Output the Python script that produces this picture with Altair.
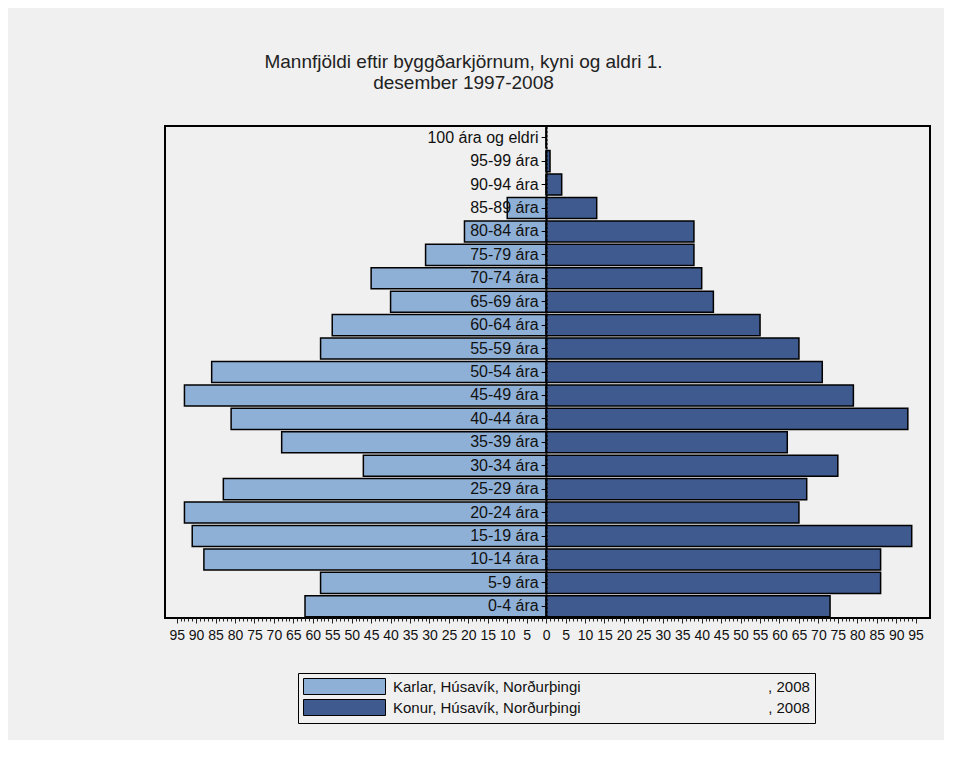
import altair as alt
import pandas as pd

ages = ["100 ára og eldri", "95-99 ára", "90-94 ára", "85-89 ára", "80-84 ára",
        "75-79 ára", "70-74 ára", "65-69 ára", "60-64 ára", "55-59 ára",
        "50-54 ára", "45-49 ára", "40-44 ára", "35-39 ára", "30-34 ára",
        "25-29 ára", "20-24 ára", "15-19 ára", "10-14 ára", "5-9 ára", "0-4 ára"]
karlar = [0, 0, 0, 10, 21, 31, 45, 40, 55, 58, 86, 93, 81, 68, 47, 83, 93, 91, 88, 58, 62]
konur = [0, 1, 4, 13, 38, 38, 40, 43, 55, 65, 71, 79, 93, 62, 75, 67, 65, 94, 86, 86, 73]

series = ["Karlar, Húsavík, Norðurþingi", "Konur, Húsavík, Norðurþingi"]
year = "2008"
colors = ["#8fb0d6", "#3e5a8e"]
title_lines = ["Mannfjöldi eftir byggðarkjörnum, kyni og aldri 1.", "desember 1997-2008"]

rows = []
for a, m, f in zip(ages, karlar, konur):
    rows.append({"age": a, "sex": series[0], "value": -m})
    rows.append({"age": a, "sex": series[1], "value": f})
df = pd.DataFrame(rows)

FONT = "Liberation Sans"
W, H = 765, 492
XMIN, XMAX = -98.0, 98.7
zero_px = W * (-XMIN) / (XMAX - XMIN)

nb = "\u00a0" * 45
lbl0 = series[0] + nb + ", " + year
lbl1 = series[1] + nb + ", " + year
label_expr = f"datum.label == '{series[0]}' ? '{lbl0}' : '{lbl1}'"

bars = alt.Chart(df).mark_bar(stroke="black", strokeWidth=1.5).encode(
    x=alt.X("value:Q",
            scale=alt.Scale(domain=[XMIN, XMAX], nice=False, zero=False),
            axis=alt.Axis(
                values=list(range(-95, 96)),
                labelExpr="datum.value % 5 === 0 ? '' + abs(datum.value) : ''",
                tickSize={"condition": {"test": "datum.value % 5 === 0", "value": 5}, "value": 3},
                tickColor="#222", tickWidth=1,
                labelOverlap=False, labelFontSize=14, labelFont=FONT,
                labelColor="#111", labelPadding=5, domain=False, grid=False, title=None)),
    y=alt.Y("age:N", sort=ages,
            scale=alt.Scale(paddingInner=0.1, paddingOuter=0.05),
            axis=alt.Axis(offset=-zero_px, title=None, domain=True, domainColor="black",
                          domainWidth=2, domainDash=[3, 1], tickSize=5, tickColor="black",
                          labelFontSize=16, labelFont=FONT, labelColor="#111",
                          labelPadding=3, zindex=1, grid=False)),
    color=alt.Color("sex:N", scale=alt.Scale(domain=series, range=colors),
                    legend=alt.Legend(
                        orient="none", legendX=133, legendY=547, title=None,
                        symbolType="M-1,-1H9.25V1H-1Z", symbolSize=256,
                        symbolStrokeColor="black", symbolStrokeWidth=1,
                        labelExpr=label_expr, labelLimit=1000, labelFontSize=15,
                        labelFont=FONT, labelColor="#111", labelOffset=73,
                        rowPadding=0, padding=5, fillColor="#f0f0f0",
                        strokeColor="black")),
)

chart = bars.properties(
    width=W, height=H,
    autosize=alt.AutoSizeParams(type="none"),
    padding={"left": 157, "top": 118, "right": 14, "bottom": 122},
    title=alt.Title(title_lines,
                    fontSize=19, font=FONT, fontWeight="normal", color="#222",
                    lineHeight=21, offset=33, dx=-84, anchor="middle"),
).configure(background="#f0f0f0").configure_view(stroke="black", strokeWidth=2, fill="#f0f0f0")

chart.save("out.html", embed_options={"renderer": "svg", "actions": False})
